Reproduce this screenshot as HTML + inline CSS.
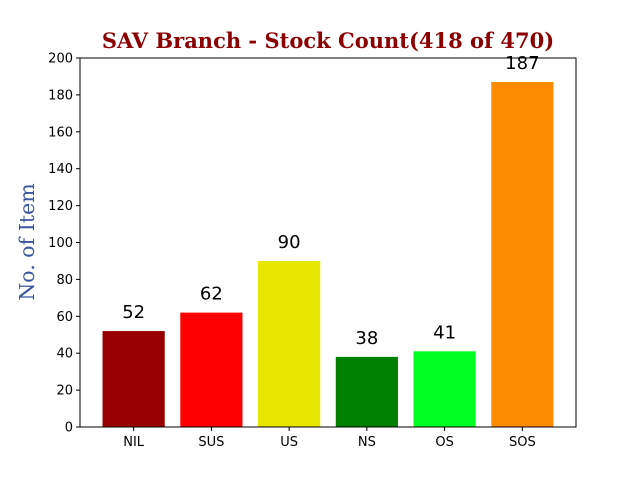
<!DOCTYPE html>
<html><head><meta charset="utf-8"><style>
body{margin:0;background:#fff;}
svg{display:block;font-family:"DejaVu Sans","Liberation Sans",sans-serif;}
</style></head><body>
<svg id="chart" width="640" height="480" viewBox="0 0 640 480">
<text x="328" y="48" text-anchor="middle" font-family="'DejaVu Serif','Liberation Serif',serif" font-weight="bold" font-size="21" fill="#8b0000">SAV Branch - Stock Count(418 of 470)</text>
<text transform="translate(34,242) rotate(-90)" text-anchor="middle" font-family="'DejaVu Serif','Liberation Serif',serif" font-size="20.5" fill="#3a55a0">No. of Item</text>
<g id="bars"></g><g id="yticks"></g><g id="xticks"></g>
<rect x="80" y="58" width="496" height="369" fill="none" stroke="#000" stroke-width="1"/>
</svg>
<script>
const categories=["NIL","SUS","US","NS","OS","SOS"];
const values=[52,62,90,38,41,187];
const colors=["#990000","#ff0000","#e6e600","#008000","#00ff22","#ff8c00"];
const yTicks=[0,20,40,60,80,100,120,140,160,180,200];
const L=80,R=576,T=58,B=427,yMax=200,xMin=-0.69,xMax=5.69;
const NS="http://www.w3.org/2000/svg";
function y(v){return B-(v/yMax)*(B-T);}
function x(i){return L+(i-xMin)/(xMax-xMin)*(R-L);}
function mk(t,a,p){const e=document.createElementNS(NS,t);for(const k in a)e.setAttribute(k,a[k]);p.appendChild(e);return e;}
const bars=document.getElementById('bars'),yt=document.getElementById('yticks'),xt=document.getElementById('xticks');
const bw=(0.8/(xMax-xMin))*(R-L);
values.forEach((v,i)=>{
 const r=mk('rect',{x:x(i)-bw/2,y:y(v),width:bw,height:B-y(v),fill:colors[i]},bars);
 
 
 const t=mk('text',{x:x(i),y:y(v)-13,'text-anchor':'middle','font-size':'18',fill:'#000'},bars);
 t.textContent=v;
 
 
 mk('line',{x1:x(i),x2:x(i),y1:B,y2:B+4,stroke:'#000'},xt);
 const l=mk('text',{x:x(i),y:B+19,'text-anchor':'middle','font-size':'13'},xt);
 l.textContent=categories[i];
 
 
});
yTicks.forEach(v=>{
 mk('line',{x1:L-4,x2:L,y1:y(v),y2:y(v),stroke:'#000'},yt);
 const l=mk('text',{x:L-7,y:y(v)+4.5,'text-anchor':'end','font-size':'13'},yt);
 l.textContent=v;
 
 
});
</script>
</body></html>
